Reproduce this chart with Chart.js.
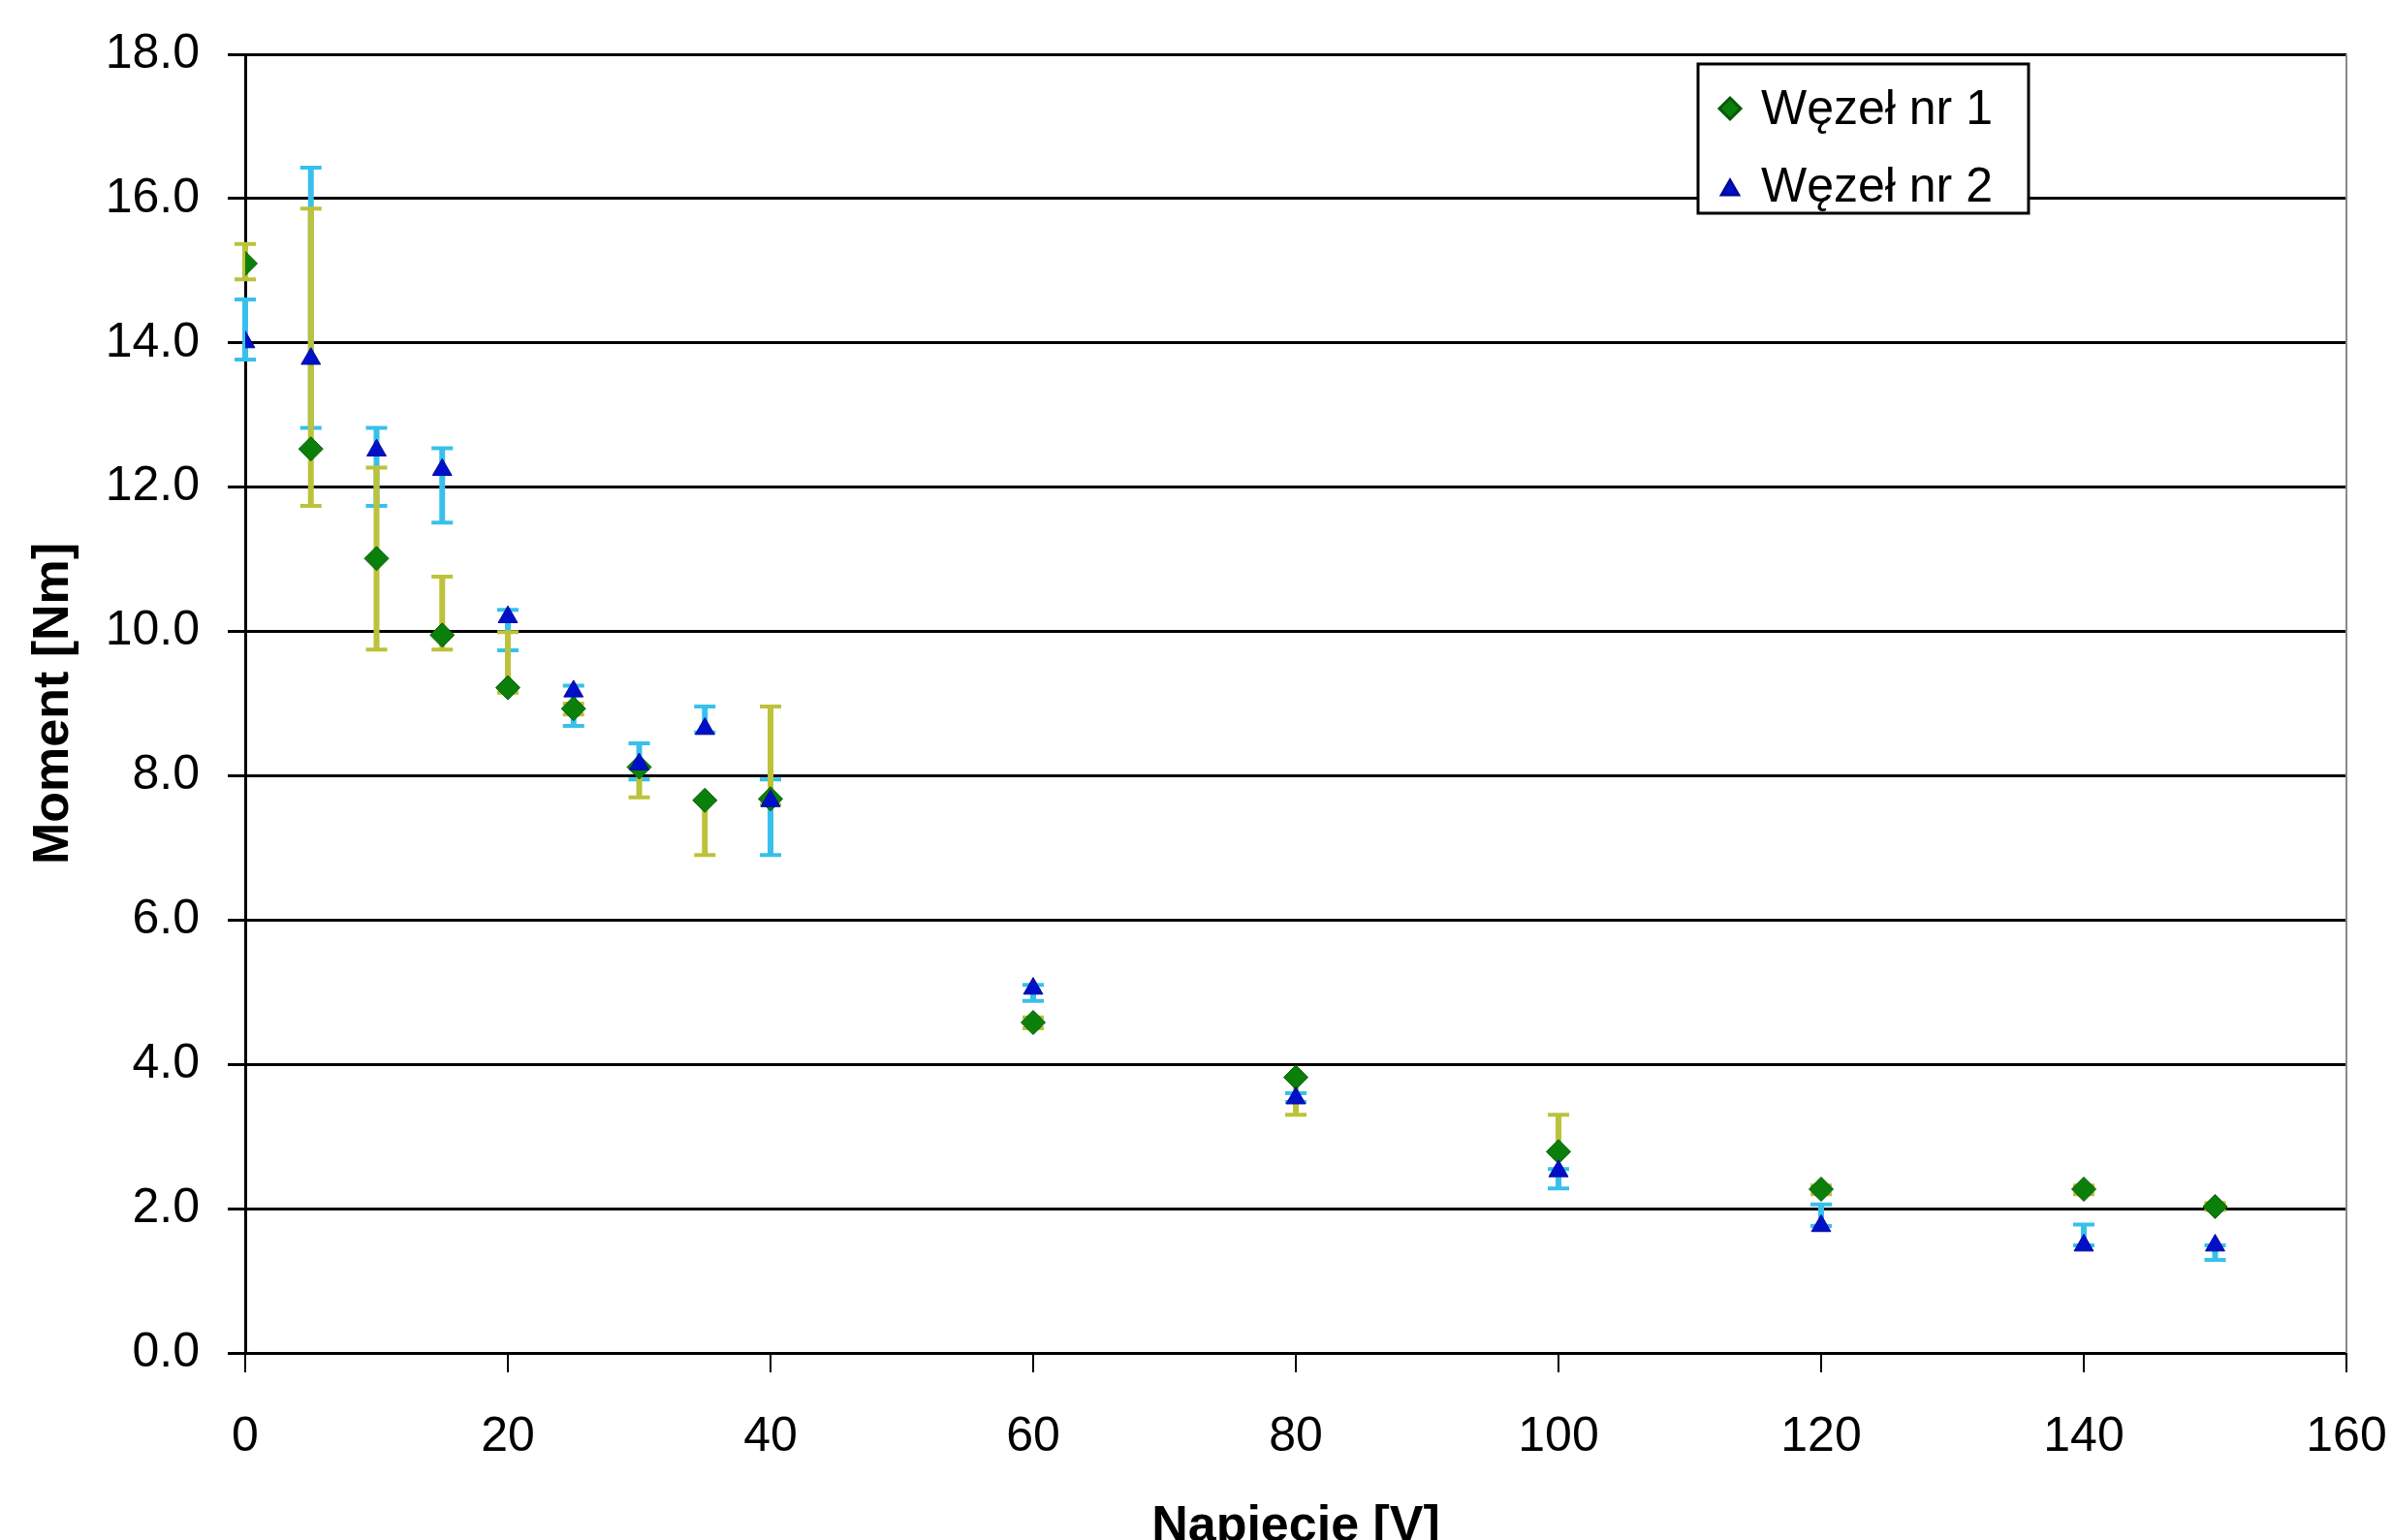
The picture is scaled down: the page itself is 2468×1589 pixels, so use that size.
<!DOCTYPE html>
<html>
<head>
<meta charset="utf-8">
<script src="https://cdn.jsdelivr.net/npm/chart.js@4.4.0/dist/chart.umd.min.js"></script>
<style>
  body { margin: 0; background: #fff; }
  canvas { display: block; }
</style>
</head>
<body>
<canvas id="chart" width="2468" height="1589"></canvas>
<script>
// napiecie [V]
const voltages = [0, 5, 10, 15, 20, 25, 30, 35, 40, 60, 80, 100, 120, 140, 150];

// wezel nr 1 (diamonds) with its min/max range
const node1 = [15.10, 12.53, 11.01, 9.95, 9.22, 8.93, 8.12, 7.66, 7.68, 4.58, 3.82, 2.79, 2.27, 2.27, 2.03];
const node1Low = [14.88, 11.74, 9.75, 9.75, 9.15, 8.85, 7.70, 6.90, 7.60, 4.50, 3.30, 2.79, 2.20, 2.20, 1.98];
const node1High = [15.37, 15.86, 12.27, 10.76, 9.99, 9.00, 8.12, 7.66, 8.96, 4.65, 3.82, 3.30, 2.32, 2.32, 2.08];

// wezel nr 2 (triangles) with its min/max range
const node2 = [14.01, 13.78, 12.51, 12.24, 10.20, 9.17, 8.16, 8.65, 7.65, 5.05, 3.53, 2.52, 1.76, 1.49, 1.49];
const node2Low = [13.77, 12.82, 11.74, 11.51, 9.74, 8.69, 7.95, 8.60, 6.90, 4.88, 3.48, 2.28, 1.76, 1.49, 1.29];
const node2High = [14.60, 16.43, 12.82, 12.54, 10.30, 9.25, 8.45, 8.96, 7.95, 5.10, 3.60, 2.55, 2.06, 1.78, 1.49];

const xTicks = [0, 20, 40, 60, 80, 100, 120, 140, 160];
const yTicks = [0, 2, 4, 6, 8, 10, 12, 14, 16, 18];

const FONT = '"Liberation Sans", Arial, sans-serif';

function toPoints(xs, ys) {
  return xs.map((x, i) => ({ x: x, y: ys[i] }));
}

// vertical error bars drawn under the markers
const errorBars = {
  id: "errorBars",
  beforeDatasetsDraw(chart) {
    const ctx = chart.ctx;
    const xs = chart.scales.x;
    const ys = chart.scales.y;
    chart.data.datasets.forEach((ds) => {
      ctx.save();
      ctx.strokeStyle = ds.errColor;
      ds.data.forEach((p, i) => {
        const px = xs.getPixelForValue(p.x);
        const top = ys.getPixelForValue(ds.errHigh[i]);
        const bot = ys.getPixelForValue(ds.errLow[i]);
        ctx.lineWidth = 6;
        ctx.beginPath();
        ctx.moveTo(px, top);
        ctx.lineTo(px, bot);
        ctx.stroke();
        ctx.lineWidth = 4;
        ctx.beginPath();
        ctx.moveTo(px - 11, top);
        ctx.lineTo(px + 11, top);
        ctx.moveTo(px - 11, bot);
        ctx.lineTo(px + 11, bot);
        ctx.stroke();
      });
      ctx.restore();
    });
  },
};

// right edge of the plot area + boxed legend inside it
const frameAndLegend = {
  id: "frameAndLegend",
  afterDraw(chart) {
    const ctx = chart.ctx;
    const area = chart.chartArea;
    ctx.save();
    ctx.strokeStyle = "#8a8a8a";
    ctx.lineWidth = 2;
    ctx.beginPath();
    ctx.moveTo(area.right, area.top);
    ctx.lineTo(area.right, area.bottom);
    ctx.stroke();

    const bx = area.left + 1499;
    const by = area.top + 10;
    ctx.fillStyle = "#fff";
    ctx.fillRect(bx, by, 341, 154);
    ctx.strokeStyle = "#000";
    ctx.lineWidth = 3;
    ctx.strokeRect(bx, by, 341, 154);

    ctx.font = "50px " + FONT;
    ctx.textBaseline = "middle";
    ctx.textAlign = "left";
    const sets = [chart.data.datasets[1], chart.data.datasets[0]];
    sets.forEach((ds, i) => {
      const cy = by + 46 + i * 80;
      ctx.fillStyle = ds.backgroundColor;
      ctx.strokeStyle = ds.borderColor;
      Chart.helpers.drawPoint(ctx, {
        pointStyle: ds.pointStyle,
        radius: ds.pointStyle === "triangle" ? 10 : 11,
        rotation: 0,
        borderWidth: 1,
      }, bx + 33, cy + (ds.pointStyle === "triangle" ? 4 : 0));
      ctx.fillStyle = "#000";
      ctx.fillText(ds.label, bx + 65, cy + 2);
    });
    ctx.restore();
  },
};

const chart = new Chart(document.getElementById("chart"), {
  type: "scatter",
  data: {
    datasets: [
      {
        label: "Węzeł nr 2",
        data: toPoints(voltages, node2),
        errLow: node2Low,
        errHigh: node2High,
        errColor: "#38c0ec",
        pointStyle: "triangle",
        pointRadius: 11.5,
        backgroundColor: "#0010c8",
        borderColor: "#000a9a",
        borderWidth: 1,
        order: 0,
      },
      {
        label: "Węzeł nr 1",
        data: toPoints(voltages, node1),
        errLow: node1Low,
        errHigh: node1High,
        errColor: "#bcc23a",
        pointStyle: "rectRot",
        pointRadius: 12.5,
        backgroundColor: "#0a800a",
        borderColor: "#065a06",
        borderWidth: 1,
        order: 1,
      },
    ],
  },
  options: {
    responsive: false,
    animation: false,
    layout: { padding: { left: 0, right: 47, top: 56, bottom: 0 } },
    plugins: {
      legend: { display: false },
      tooltip: { enabled: false },
    },
    scales: {
      x: {
        type: "linear",
        min: 0,
        max: 160,
        afterBuildTicks: (scale) => {
          scale.ticks = xTicks.map((v) => ({ value: v }));
        },
        afterFit: (scale) => {
          scale.height = 193;
          scale.paddingLeft = 0;
          scale.paddingRight = 0;
        },
        ticks: {
          color: "#000",
          padding: 37,
          maxRotation: 0,
          font: { family: FONT, size: 50 },
        },
        grid: {
          drawOnChartArea: false,
          drawTicks: true,
          tickLength: 20,
          color: "#000",
          lineWidth: 2,
        },
        border: { display: true, color: "#000", width: 3 },
        title: {
          display: true,
          text: "Napięcie [V]",
          color: "#000",
          font: { family: FONT, size: 52, weight: "bold" },
          padding: { top: 0, bottom: -18 },
        },
      },
      y: {
        min: 0,
        max: 18,
        afterBuildTicks: (scale) => {
          scale.ticks = yTicks.map((v) => ({ value: v }));
        },
        afterFit: (scale) => {
          scale.width = 253;
          scale.paddingTop = 0;
          scale.paddingBottom = 0;
        },
        ticks: {
          color: "#000",
          padding: 29,
          font: { family: FONT, size: 50 },
          callback: (v) => Number(v).toFixed(1),
        },
        grid: {
          color: "#000",
          lineWidth: 3,
          tickLength: 18,
        },
        border: { display: true, color: "#000", width: 3 },
        title: {
          display: true,
          text: "Moment [Nm]",
          color: "#000",
          font: { family: FONT, size: 52, weight: "bold" },
          padding: { top: 24, bottom: 0 },
        },
      },
    },
  },
  plugins: [errorBars, frameAndLegend],
});
</script>
</body>
</html>
